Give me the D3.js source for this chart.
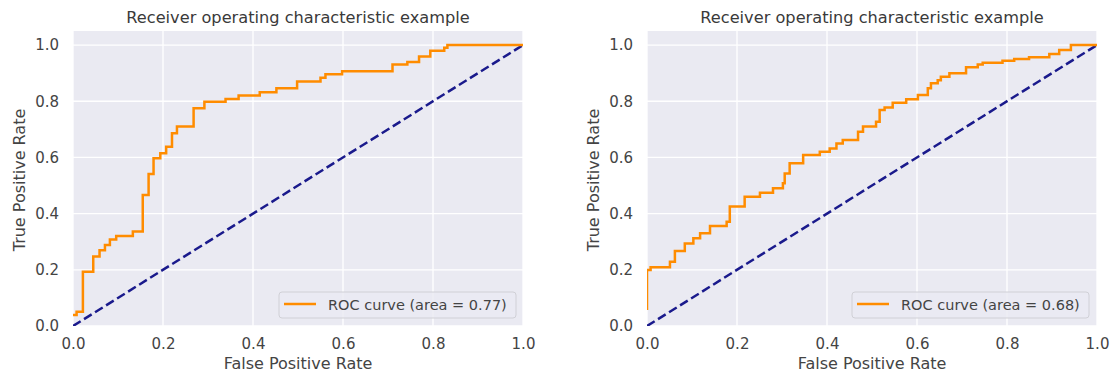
<!DOCTYPE html>
<html>
<head>
<meta charset="utf-8">
<script src="https://cdn.jsdelivr.net/npm/d3@7"></script>
<style>
  body { margin: 0; background: #fff; }
  text { font-family: "DejaVu Sans", sans-serif; }
</style>
</head>
<body>
<svg id="chart" width="1113" height="376"></svg>
<script>
const ticks = [0, 0.2, 0.4, 0.6, 0.8, 1.0];
const titleText = "Receiver operating characteristic example";
const xLabel = "False Positive Rate";
const yLabel = "True Positive Rate";

// left model: step corners (fpr where tpr jumps, tpr after jump)
const fprA = [0, 0.008, 0.022, 0.045, 0.059, 0.071, 0.082, 0.096, 0.133, 0.155, 0.168, 0.179, 0.194, 0.207, 0.22, 0.231, 0.268, 0.292, 0.339, 0.368, 0.415, 0.452, 0.498, 0.55, 0.561, 0.598, 0.71, 0.743, 0.769, 0.794, 0.825, 0.832, 1.0];
const tprA = [0.039, 0.051, 0.193, 0.247, 0.27, 0.288, 0.308, 0.32, 0.336, 0.466, 0.541, 0.597, 0.615, 0.638, 0.686, 0.71, 0.775, 0.798, 0.808, 0.82, 0.832, 0.846, 0.87, 0.884, 0.896, 0.907, 0.931, 0.94, 0.959, 0.98, 0.99, 1.0, 1.0];
const aucA = 0.77;

// right model
const fprB = [0, 0, 0.008, 0.051, 0.062, 0.084, 0.103, 0.118, 0.14, 0.177, 0.184, 0.217, 0.251, 0.28, 0.302, 0.306, 0.317, 0.347, 0.384, 0.406, 0.421, 0.435, 0.469, 0.48, 0.509, 0.517, 0.528, 0.546, 0.576, 0.602, 0.624, 0.631, 0.646, 0.653, 0.672, 0.709, 0.735, 0.746, 0.79, 0.816, 0.849, 0.894, 0.916, 0.942, 1.0];
const tprB = [0.057, 0.199, 0.209, 0.229, 0.267, 0.294, 0.312, 0.33, 0.356, 0.371, 0.425, 0.46, 0.474, 0.49, 0.508, 0.543, 0.579, 0.609, 0.62, 0.632, 0.65, 0.662, 0.691, 0.71, 0.727, 0.769, 0.778, 0.795, 0.807, 0.822, 0.846, 0.864, 0.875, 0.887, 0.9, 0.921, 0.931, 0.937, 0.944, 0.95, 0.957, 0.968, 0.982, 1.0, 1.0];
const aucB = 0.68;

const plotTop = 31, plotBottom = 326, plotWidth = 450;
const svg = d3.select("#chart");

function drawRoc(left, fpr, tpr, auc, id, legendX, yLabelX) {
    const x = d3.scaleLinear().domain([0, 1]).range([left, left + plotWidth]);
    const y = d3.scaleLinear().domain([0, 1.05]).range([plotBottom, plotTop]);
    const g = svg.append("g");

    g.append("rect")
        .attr("x", left).attr("y", plotTop)
        .attr("width", plotWidth).attr("height", plotBottom - plotTop)
        .attr("fill", "#EAEAF2");

    g.append("clipPath").attr("id", id)
        .append("rect")
        .attr("x", left).attr("y", plotTop)
        .attr("width", plotWidth).attr("height", plotBottom - plotTop);

    // grid
    g.append("g").selectAll("line").data(ticks).join("line")
        .attr("x1", d => x(d)).attr("x2", d => x(d))
        .attr("y1", plotTop).attr("y2", plotBottom)
        .attr("stroke", "#fff").attr("stroke-width", 1.3);
    g.append("g").selectAll("line").data(ticks).join("line")
        .attr("y1", d => y(d)).attr("y2", d => y(d))
        .attr("x1", left).attr("x2", left + plotWidth)
        .attr("stroke", "#fff").attr("stroke-width", 1.3);

    // axes (labels only)
    const xAxis = g.append("g")
        .attr("transform", `translate(0, ${plotBottom})`)
        .call(d3.axisBottom(x).tickValues(ticks).tickFormat(d3.format(".1f")).tickSize(0).tickPadding(12));
    const yAxis = g.append("g")
        .attr("transform", `translate(${left}, 0)`)
        .call(d3.axisLeft(y).tickValues(ticks).tickFormat(d3.format(".1f")).tickSize(0).tickPadding(14));
    [xAxis, yAxis].forEach(a => {
        a.select(".domain").remove();
        a.selectAll("text").attr("font-size", "15px").attr("fill", "#444")
            .style("font-family", "DejaVu Sans");
    });

    const plot = g.append("g").attr("clip-path", `url(#${id})`);

    plot.append("line")
        .attr("x1", x(0)).attr("y1", y(0))
        .attr("x2", x(1)).attr("y2", y(1))
        .attr("stroke", "#1a1a8c").attr("stroke-width", 2.5)
        .attr("stroke-dasharray", "9,4");

    const pts = fpr.map((f, i) => [f, tpr[i]]);
    plot.append("path")
        .datum(pts)
        .attr("fill", "none")
        .attr("stroke", "#FF8C00")
        .attr("stroke-width", 2.5)
        .attr("d", d3.line().x(d => x(d[0])).y(d => y(d[1])).curve(d3.curveStepAfter));

    // legend
    const lg = g.append("g").attr("transform", `translate(${legendX}, 292)`);
    lg.append("rect")
        .attr("width", 237).attr("height", 26).attr("rx", 3)
        .attr("fill", "#EAEAF2").attr("fill-opacity", 0.8)
        .attr("stroke", "#d0d0d6");
    lg.append("line")
        .attr("x1", 5).attr("x2", 37).attr("y1", 12).attr("y2", 12)
        .attr("stroke", "#FF8C00").attr("stroke-width", 2.5);
    lg.append("text")
        .attr("x", 49).attr("y", 17.5)
        .attr("font-size", "14.5px").attr("fill", "#444")
        .text(`ROC curve (area = ${auc.toFixed(2)})`);

    // labels
    g.append("text")
        .attr("x", left + plotWidth / 2).attr("y", 23)
        .attr("text-anchor", "middle")
        .attr("font-size", "16.2px").attr("fill", "#3a3a3a")
        .text(titleText);
    g.append("text")
        .attr("x", left + plotWidth / 2).attr("y", 369)
        .attr("text-anchor", "middle")
        .attr("font-size", "16px").attr("fill", "#444")
        .text(xLabel);
    g.append("text")
        .attr("transform", `translate(${yLabelX}, 180) rotate(-90)`)
        .attr("text-anchor", "middle")
        .attr("font-size", "16px").attr("fill", "#444")
        .text(yLabel);
}

drawRoc(73, fprA, tprA, aucA, "clipA", 279, 25);
drawRoc(647, fprB, tprB, aucB, "clipB", 852, 599);
</script>
</body>
</html>
